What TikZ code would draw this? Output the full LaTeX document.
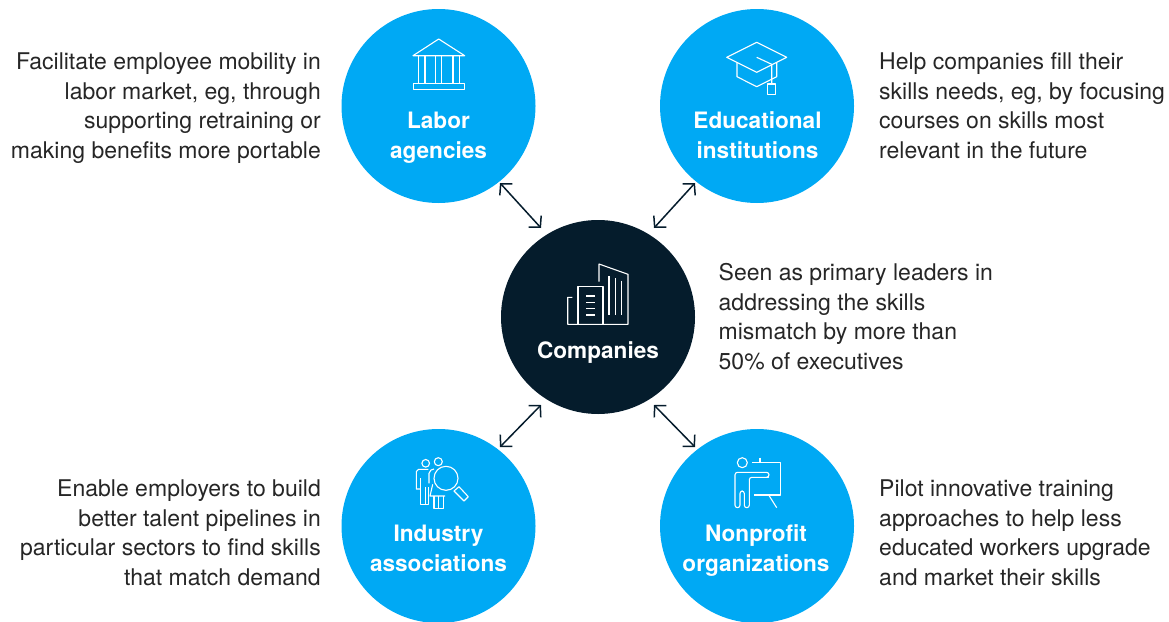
\documentclass[tikz,border=0pt]{standalone}
\usepackage{fontspec}
\setmainfont{TeX Gyre Heros}
\usetikzlibrary{arrows.meta}
\definecolor{hubblue}{HTML}{00A9F4}
\definecolor{hubdark}{HTML}{051C2C}
\tikzset{
  x=1pt,y=-1pt,
  hubcircle/.style={circle,minimum size=194pt,inner sep=0pt,fill=hubblue},
  title/.style={text=white,font=\fontsize{22.6}{30}\selectfont\bfseries,align=center,inner sep=0pt,anchor=base},
  body/.style={text=black!85,font=\fontsize{23}{29.5}\selectfont,inner sep=0pt},
  leftbody/.style={body,align=right,anchor=base east},
  rightbody/.style={body,align=left,anchor=base west},
  link/.style={draw=hubdark,line width=1.5pt,{Straight Barb[length=8pt,width=17pt,line width=1.5pt]}-{Straight Barb[length=8pt,width=17pt,line width=1.5pt]}},
  icon/.style={draw=white,line width=1.1pt,line join=round}
}
\begin{document}
\begin{tikzpicture}
\useasboundingbox (0,0) rectangle (1169,621);
\node[hubcircle] (labor) at (438.5,106) {};
\node[hubcircle] (edu) at (757,106) {};
\node[hubcircle,fill=hubdark] (comp) at (598,317) {};
\node[hubcircle] (ind) at (438.5,526) {};
\node[hubcircle] (non) at (757,526) {};

\node[title] (tlabor) at (438.5,158) {Labor\\agencies};
\node[title] (tedu) at (757.5,158) {Educational\\institutions};
\node[title] (tcomp) at (598,358) {Companies};
\node[title] (tind) at (438.5,571) {Industry\\associations};
\node[title] (tnon) at (756,571) {Nonprofit\\organizations};

\node[leftbody] (blabor) at (321,158) {Facilitate employee mobility in\\labor market, eg, through\\supporting retraining or\\making benefits more portable};
\node[rightbody] (bedu) at (879,158) {Help companies fill their\\skills needs, eg, by focusing\\courses on skills most\\relevant in the future};
\node[rightbody] (bcomp) at (718.5,369) {Seen as primary leaders in\\addressing the skills\\mismatch by more than\\50\% of executives};
\node[leftbody] (bind) at (321,585) {Enable employers to build\\better talent pipelines in\\particular sectors to find skills\\that match demand};
\node[rightbody] (bnon) at (879,585) {Pilot innovative training\\approaches to help less\\educated workers upgrade\\and market their skills};

\coordinate (la) at ([shift={(61.5,77)}]labor.center);
\coordinate (lb) at ([shift={(-57,-89)}]comp.center);
\coordinate (ea) at ([shift={(-62,77)}]edu.center);
\coordinate (eb) at ([shift={(56,-89)}]comp.center);
\coordinate (ia) at ([shift={(61.5,-79)}]ind.center);
\coordinate (ib) at ([shift={(-57,88)}]comp.center);
\coordinate (na) at ([shift={(-62,-79)}]non.center);
\coordinate (nb) at ([shift={(56,88)}]comp.center);
\draw[link] (la) -- (lb);
\draw[link] (ea) -- (eb);
\draw[link] (ia) -- (ib);
\draw[link] (na) -- (nb);

% bank
\draw[icon] (413,55.7) -- (438.7,39) -- (464.7,55.7) -- cycle;
\draw[icon] (413.3,83.7) rectangle (464.7,89.7);
\draw[icon] (418.7,55.7) -- (418.7,83.7) (425,55.7) -- (425,83.7) (435.3,55.7) -- (435.3,83.7) (441.7,55.7) -- (441.7,83.7) (453,55.7) -- (453,83.7) (459.3,55.7) -- (459.3,83.7);
% cap
\draw[icon] (726.7,57.3) -- (756.7,42.3) -- (786.7,57.3) -- (756.7,72.3) -- cycle;
\draw[icon] (737,62.3) -- (737,76.7) -- (756.7,86.7) -- (776.7,76.7) -- (776.7,62.3);
\draw[icon] (756.7,57.3) -- (771.7,64.3) -- (771.7,84);
\draw[icon] (767.7,84) rectangle (775.7,94.3);
% building
\draw[icon] (572.3,297.3) -- (567.7,297.3) -- (567.7,324.3) -- (628,324.3) -- (628,274.3) -- (599,264) -- (599,281.7);
\draw[icon] (578,324.3) -- (578,286.7) -- (603,286.7) -- (603,324.3);
\draw[icon] (586,296) -- (595,296) (586,302.3) -- (595,302.3) (586,308.7) -- (595,308.7) (586,315) -- (595,315);
\draw[icon] (609,276) -- (609,315.3) (615.3,278.3) -- (615.3,315.3) (621.7,280.7) -- (621.7,315.3);
% people and magnifier
\draw[icon] (425.7,463.3) circle (3.8);
\draw[icon] (438.3,461.7) circle (4);
\draw[icon] (446,478.3) circle (12);
\draw[icon] (454,491) -- (459,486.7) -- (468.3,496.7) -- (464,501) -- cycle;
\draw[icon] (428.3,469.3) -- (418.5,469.3) -- (416.3,471.5) -- (416.3,489) -- (420.7,489);
\draw[icon] (420.7,478) -- (420.7,504.3) -- (428.7,504.3) -- (428.7,486.7);
\draw[icon] (425.7,487) -- (425.7,504.3);
\draw[icon] (434,469) -- (431,470) -- (429,473.3) -- (429,483.3);
\draw[icon] (432.7,484.3) -- (430,496) -- (445,496);
\draw[icon] (434,496) -- (434,508.3) -- (443.3,508.3) -- (443.3,496);
\draw[icon] (438.7,496) -- (438.7,508.3);
% teacher
\draw[icon] (742.3,462.7) circle (5);
\draw[icon,rounded corners=2.5pt] (766,477.3) -- (769,477.3) -- (769,472.3) -- (735,472.3) -- (735,507.7) -- (740,507.7) -- (740,491) -- (744.3,491) -- (744.3,507.7) -- (749.3,507.7) -- (749.3,477.3) -- cycle;
\draw[icon] (752.3,462.3) -- (780.3,462.3) -- (780.3,495) -- (754,495);
\draw[icon] (760,457.7) -- (760,462.3);
\draw[icon] (768.7,495) -- (776.7,507.7);
\end{tikzpicture}
\end{document}
